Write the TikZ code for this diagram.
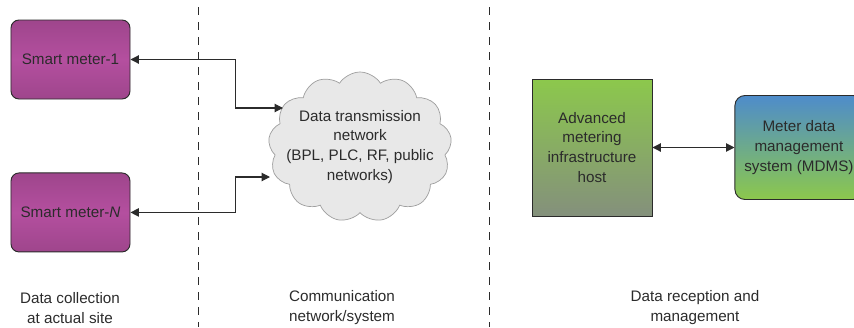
\documentclass[tikz,border=0pt]{standalone}
\usepackage{fontspec}
\setmainfont{Liberation Sans}
\usepackage{xcolor}
\usepackage{tikz}
\usetikzlibrary{arrows.meta,calc,positioning,shapes.symbols}
\definecolor{meterpink}{HTML}{B44F9F}
\definecolor{hostgreen}{HTML}{8CC84C}
\definecolor{hostgray}{HTML}{84907C}
\definecolor{mdmsblue}{HTML}{4E8CCB}
\definecolor{cloudgray}{HTML}{E8E8E8}
\definecolor{inkgray}{HTML}{2B2B2B}
\tikzset{
  every node/.style={font=\fontsize{13}{17}\selectfont,text=inkgray},
  meterbox/.style={draw=inkgray,line width=0.8pt,rounded corners=2.4mm,minimum width=3.57cm,minimum height=2.37cm,
    top color=meterpink!88!black,bottom color=meterpink!88!black,middle color=meterpink},
  hostbox/.style={draw=inkgray,line width=0.8pt,minimum width=3.6cm,minimum height=4.11cm,align=center,
    top color=hostgreen,bottom color=hostgray},
  mdmsbox/.style={draw=inkgray,line width=0.8pt,rounded corners=3mm,minimum width=3.84cm,minimum height=3.12cm,align=center,
    top color=mdmsblue,bottom color=hostgreen},
  netcloud/.style={cloud,cloud puffs=13,cloud puff arc=115,cloud ignores aspect,draw=black!38,fill=cloudgray,line width=0.6pt,
    minimum width=5.5cm,minimum height=4.5cm,align=center,inner xsep=-12pt,inner ysep=0pt},
  twoway/.style={{Triangle[length=2.5mm,width=2.5mm]}-{Triangle[length=2.5mm,width=2.5mm]},line width=0.9pt,inkgray},
  divider/.style={line width=0.8pt,inkgray,dash pattern=on 0.24cm off 0.21cm},
  caption/.style={align=center}
}
\begin{document}
\begin{tikzpicture}[x=0.03cm,y=-0.03cm]
  \useasboundingbox (0,0) rectangle (854,327);
  % site column
  \node[meterbox] (m1) at (70.5,59.5) {Smart meter-1};
  \node[meterbox,below=2.19cm of m1] (mN) {Smart meter-\textit{N}};
  % network column
  \node[netcloud] (net) at (360,147) {Data transmission\\network\\(BPL, PLC, RF, public\\networks)};
  \coordinate (in1) at (283,108);
  \coordinate (inN) at (270,177);
  \draw[twoway] (m1.east) -- ++(105,0) |- (in1);
  \draw[twoway] (mN.east) -- ++(105,0) |- (inN);
  % reception column
  \node[hostbox] (host) at (592,147.5) {Advanced\\metering\\infrastructure\\host};
  \node[mdmsbox,right=2.46cm of host] (mdms) {Meter data\\management\\system (MDMS)};
  \draw[twoway] (host) -- (mdms);
  % dividers and captions
  \draw[divider] (198,7) -- (198,327);
  \draw[divider] (489,7) -- (489,327);
  \node[caption] (capsite) at (70,308) {Data collection\\at actual site};
  \node[caption] (capnet) at (342,308) {Communication\\network/system};
  \node[caption] (caprec) at (695,308) {Data reception and\\management};
\end{tikzpicture}
\end{document}
